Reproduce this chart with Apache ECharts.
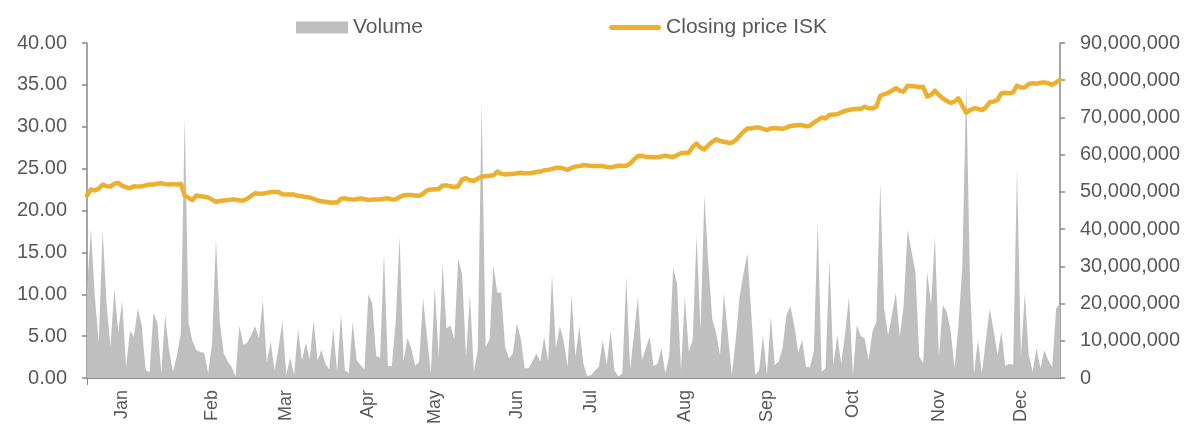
<!DOCTYPE html>
<html>
<head>
<meta charset="utf-8">
<script src="https://cdn.jsdelivr.net/npm/echarts@6/dist/echarts.min.js"></script>
<style>
  html, body { margin: 0; padding: 0; background: #fff; }
  #chart { width: 1186px; height: 428px; }
</style>
</head>
<body>
<div id="chart"></div>
<script>
// month labels and the trading-day index they sit under
const monthNames = ['Jan', 'Feb', 'Mar', 'Apr', 'May', 'Jun', 'Jul', 'Aug', 'Sep', 'Oct', 'Nov', 'Dec'];
const monthIdx = [9, 32, 51, 72, 89, 110, 129, 153, 174, 196, 218, 239];

// daily volume, millions of shares
const volumeM = [
  23.6, 40, 22, 9.5, 39.6, 20, 8.4, 24, 12.4, 20.7,
  3.0, 12.7, 11.1, 18.7, 14.2, 2.3, 1.4, 17.4, 14.9, 1.25,
  16.9, 7.5, 1.7, 6, 12, 70, 14.7, 9.8, 7.5, 7,
  6.8, 1.25, 9.3, 37.2, 15, 6.6, 4.5, 3.0, 0.4, 14.2,
  8.9, 9.5, 11.5, 14, 10.7, 21.1, 4.1, 9.8, 2.1, 8,
  15.1, 0.8, 5.5, 0.8, 13.1, 4.7, 9.5, 5, 15.6, 4.8,
  7.5, 3.8, 2.3, 13.3, 1.7, 17.2, 2.1, 1.25, 15.1, 4.8,
  3.5, 2.3, 22.6, 20, 5.9, 5.5, 33.5, 3.2, 3.2, 15.1,
  38, 4.4, 10.7, 8.0, 3.2, 4.4, 21.4, 11.1, 1.25, 24.5,
  5.7, 30.8, 13.3, 14.2, 10.4, 32.1, 27.7, 5.7, 22.3, 1.7,
  7.5, 74, 8.4, 10.2, 30.3, 22.9, 22.9, 8.4, 5.3, 6.6,
  14.7, 10.7, 2.6, 2.6, 4.4, 6.6, 4.4, 11.1, 4.4, 27.7,
  8.0, 14, 9.8, 3.0, 22.3, 5.7, 14, 4, 0.5, 0.8,
  2, 3.0, 10.2, 3.5, 12.7, 2.0, 0.4, 1.25, 27.2, 2.3,
  12, 21.8, 4.8, 8, 11.1, 3.2, 3.8, 8.0, 1.25, 5.9,
  29.5, 25.4, 2.0, 21.8, 7.1, 10.2, 38.4, 12.9, 49.1, 30.8,
  16, 12.0, 6.2, 22.7, 12, 0.8, 10, 21.8, 28, 33.5,
  17.4, 0.8, 2.1, 11.5, 0.8, 16.5, 3.5, 4.4, 8.0, 16.9,
  19.3, 14.2, 6.8, 10.2, 3.0, 2.9, 7.1, 42, 1.7, 2.6,
  31.7, 3.5, 11.5, 3.9, 12, 21.8, 0.8, 14.2, 11.3, 10.7,
  4.8, 12.4, 15.1, 52.3, 18.7, 11.5, 17, 23, 11.1, 19.6,
  39.9, 34, 28.6, 5.7, 3.9, 28.6, 19.6, 38, 5.7, 19.6,
  17.8, 12.9, 2.6, 14, 30, 79, 24.5, 1.25, 10.2, 1.25,
  10, 18.7, 12.9, 6.2, 12.4, 3.2, 3.9, 3.5, 56.3, 5.9,
  22.7, 6.2, 1.7, 8.0, 2.6, 7.5, 4.8, 3.0, 18.7, 20
];

// daily closing price, ISK
const closeISK = [
  21.8, 22.5, 22.4, 22.6, 23.1, 22.9, 22.85, 23.2, 23.3, 22.95,
  22.8, 22.65, 22.9, 22.85, 22.9, 23.0, 23.1, 23.1, 23.2, 23.25,
  23.15, 23.1, 23.15, 23.1, 23.2, 21.8, 21.5, 21.25, 21.8, 21.7,
  21.65, 21.55, 21.3, 21.05, 21.15, 21.2, 21.25, 21.3, 21.3, 21.2,
  21.2, 21.4, 21.75, 22.05, 22.0, 22.0, 22.1, 22.2, 22.2, 22.2,
  21.95, 21.9, 21.9, 21.9, 21.75, 21.7, 21.6, 21.55, 21.4, 21.2,
  21.1, 21.05, 20.95, 20.95, 20.95, 21.4, 21.45, 21.35, 21.3, 21.35,
  21.45, 21.35, 21.25, 21.3, 21.3, 21.35, 21.4, 21.45, 21.3, 21.35,
  21.6, 21.8, 21.85, 21.85, 21.8, 21.75, 22.0, 22.4, 22.5, 22.55,
  22.55, 23.0, 23.0, 22.9, 22.8, 22.9, 23.7, 23.85, 23.6, 23.55,
  23.8, 24.05, 24.1, 24.15, 24.2, 24.65, 24.4, 24.3, 24.35, 24.35,
  24.45, 24.5, 24.45, 24.45, 24.5, 24.6, 24.65, 24.8, 24.85, 24.95,
  25.1, 25.1, 25.0, 24.85, 25.1, 25.25, 25.3, 25.4, 25.4, 25.3,
  25.3, 25.3, 25.3, 25.2, 25.15, 25.25, 25.35, 25.35, 25.35, 25.6,
  26.1, 26.5, 26.55, 26.4, 26.4, 26.35, 26.35, 26.45, 26.55, 26.45,
  26.4, 26.6, 26.85, 26.9, 26.9, 27.6, 28.0, 27.5, 27.3, 27.8,
  28.2, 28.5, 28.3, 28.2, 28.1, 28.1, 28.4, 28.9, 29.4, 29.8,
  29.8, 29.9, 29.9, 29.75, 29.6, 29.8, 29.85, 29.8, 29.75, 29.9,
  30.1, 30.15, 30.2, 30.2, 30.05, 30.1, 30.5, 30.8, 31.1, 31.0,
  31.4, 31.45, 31.5, 31.7, 31.9, 32.0, 32.1, 32.15, 32.15, 32.4,
  32.2, 32.2, 32.4, 33.7, 33.9, 34.05, 34.3, 34.6, 34.3, 34.2,
  34.9, 34.85, 34.8, 34.75, 34.75, 33.6, 33.8, 34.3, 33.8, 33.4,
  33.1, 32.85, 33.0, 33.4, 32.5, 31.7, 32.0, 32.2, 32.15, 32.0,
  32.3, 32.9, 33.0, 33.2, 34.0, 34.05, 34.0, 34.1, 34.9, 34.7,
  34.7, 35.1, 35.2, 35.15, 35.25, 35.3, 35.2, 35.0, 35.3, 35.6
];

const categories = closeISK.map((_, i) => {
  const k = monthIdx.indexOf(i);
  return k >= 0 ? monthNames[k] : '';
});

const textColor = '#595959';
const axisColor = '#888888';
const font = 'Liberation Sans, Arial, sans-serif';
const gold = '#ecb02e';

const chart = echarts.init(document.getElementById('chart'), null, { renderer: 'canvas' });
chart.setOption({
  animation: false,
  textStyle: { fontFamily: font },
  legend: {
    left: 291,
    top: 12,
    itemWidth: 52,
    itemHeight: 12,
    itemGap: 186,
    textStyle: { color: textColor, fontSize: 21, fontFamily: font },
    data: [
      { name: 'Volume', icon: 'rect' },
      {
        name: 'Closing price ISK',
        icon: 'path://M2.5,0 H49.5 A2.5,2.5 0 0 1 49.5,5 H2.5 A2.5,2.5 0 0 1 2.5,0 Z',
        itemStyle: { color: gold }
      }
    ]
  },
  grid: { left: 87, right: 126, top: 43, bottom: 50 },
  xAxis: {
    type: 'category',
    data: categories,
    boundaryGap: false,
    axisLine: { lineStyle: { color: axisColor, width: 2 } },
    axisTick: { show: true, interval: (i) => i === 0, length: 7, lineStyle: { color: axisColor } },
    axisLabel: {
      interval: 0,
      rotate: 90,
      margin: 12,
      color: textColor,
      fontSize: 18,
      fontFamily: font
    },
    splitLine: { show: false }
  },
  yAxis: [
    {
      type: 'value',
      min: 0,
      max: 40,
      interval: 5,
      position: 'left',
      axisLine: { show: true, lineStyle: { color: axisColor, width: 1.5 } },
      axisTick: { show: true, length: 5, lineStyle: { color: axisColor, width: 1.5 } },
      axisLabel: {
        margin: 20,
        color: textColor,
        fontSize: 20,
        fontFamily: font,
        formatter: (v) => v.toFixed(2)
      },
      splitLine: { show: false }
    },
    {
      type: 'value',
      min: 0,
      max: 90,
      interval: 10,
      position: 'right',
      axisLine: { show: true, lineStyle: { color: axisColor, width: 1.5 } },
      axisTick: { show: true, length: 5, lineStyle: { color: axisColor, width: 1.5 } },
      axisLabel: {
        margin: 20,
        color: textColor,
        fontSize: 20,
        fontFamily: font,
        formatter: (v) => (v * 1e6).toLocaleString('en-US')
      },
      splitLine: { show: false }
    }
  ],
  series: [
    {
      name: 'Volume',
      type: 'line',
      yAxisIndex: 1,
      data: volumeM,
      symbol: 'none',
      lineStyle: { width: 0 },
      itemStyle: { color: '#bfbfbf' },
      areaStyle: { color: '#bfbfbf', opacity: 1 },
      z: 1
    },
    {
      name: 'Closing price ISK',
      type: 'line',
      yAxisIndex: 0,
      data: closeISK,
      symbol: 'none',
      lineStyle: { width: 4.5, color: gold, cap: 'round', join: 'round' },
      itemStyle: { color: gold },
      z: 2
    }
  ]
});
</script>
</body>
</html>
